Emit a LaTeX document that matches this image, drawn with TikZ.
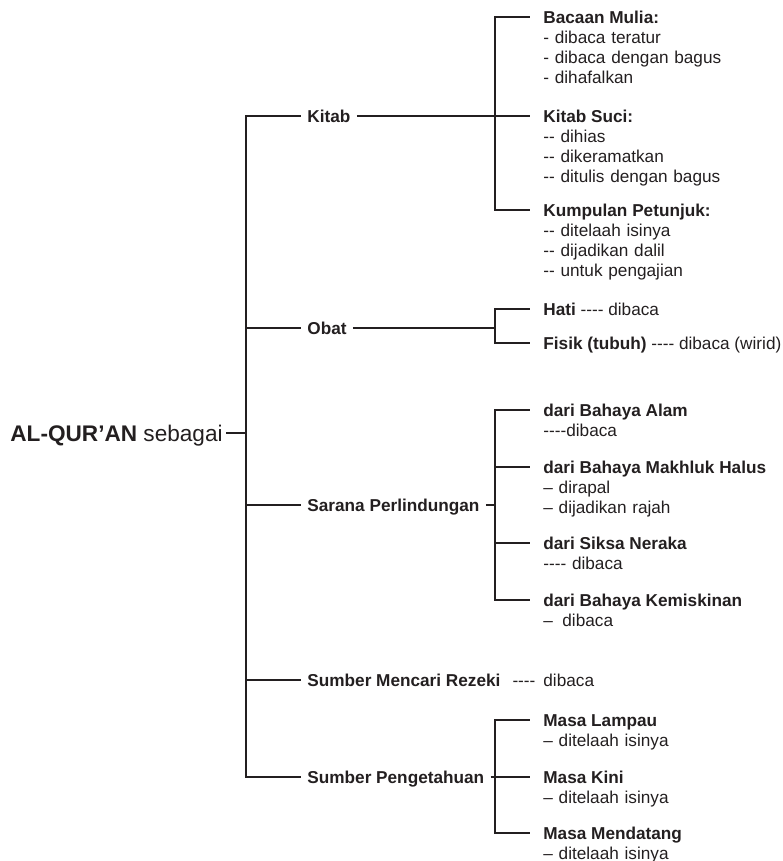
\documentclass[tikz,border=0pt]{standalone}
\usepackage{fontspec}
\setmainfont{Liberation Sans}[Ligatures=TeXOff]
\definecolor{ink}{HTML}{231F20}

\begin{document}
\begin{tikzpicture}[x=0.5pt,y=-0.5pt,
  line/.style={draw=ink,line width=0.75pt},
  root/.style={anchor=west,inner xsep=1.5pt,inner ysep=0pt,text=ink,
    font=\fontsize{11.3}{13}\selectfont,text height=8.1pt,text depth=0pt},
  main/.style={anchor=west,inner xsep=3pt,inner ysep=0pt,text=ink,
    font=\fontsize{8.6}{10}\selectfont\bfseries,text height=6.2pt,text depth=0pt},
  sub/.style={main,inner xsep=6.5pt},
  info/.style={anchor=base west,inner xsep=6.5pt,inner ysep=0pt,text=ink,
    font=\fontsize{8.6}{10}\selectfont,align=left,text width=120pt}]

\useasboundingbox (0,0) rectangle (782,861);

% root and first level
\node[root] (root) at (7,433) {\textbf{AL-QUR’AN} sebagai};
\coordinate (trunk) at (246,433);

\node[main] (kitab) at (301,116) {Kitab};
\node[main] (obat) at (301,328) {Obat};
\node[main] (sarana) at (301,505) {Sarana Perlindungan};
\node[main] (rezeki) at (301,680) {Sumber Mencari Rezeki\hspace{6pt}\mdseries----\hspace{4pt}dibaca};
\node[main] (ilmu) at (301,777) {Sumber Pengetahuan};

\coordinate (kitab-f) at (495,116);
\coordinate (obat-f) at (495,328);
\coordinate (sarana-f) at (495,505);
\coordinate (ilmu-f) at (495,777);

% Kitab
\node[sub] (bacaan) at (530,17) {Bacaan Mulia:};
\node[info] (bacaan-d) at ([yshift=-10pt]bacaan.base west) {- dibaca teratur\\- dibaca dengan bagus\\- dihafalkan};
\node[sub] (suci) at (530,116) {Kitab Suci:};
\node[info] (suci-d) at ([yshift=-10pt]suci.base west) {-- dihias\\-- dikeramatkan\\-- ditulis dengan bagus};
\node[sub] (petunjuk) at (530,210) {Kumpulan Petunjuk:};
\node[info] (petunjuk-d) at ([yshift=-10pt]petunjuk.base west) {-- ditelaah isinya\\-- dijadikan dalil\\-- untuk pengajian};

% Obat
\node[sub] (hati) at (530,309) {Hati \mdseries---- dibaca};
\node[sub] (fisik) at (530,343) {Fisik (tubuh) \mdseries---- dibaca (wirid)};

% Sarana Perlindungan
\node[sub] (alam) at (530,410) {dari Bahaya Alam};
\node[info] (alam-d) at ([yshift=-10pt]alam.base west) {----dibaca};
\node[sub] (halus) at (530,467) {dari Bahaya Makhluk Halus};
\node[info] (halus-d) at ([yshift=-10pt]halus.base west) {– dirapal\\– dijadikan rajah};
\node[sub] (neraka) at (530,543) {dari Siksa Neraka};
\node[info] (neraka-d) at ([yshift=-10pt]neraka.base west) {---- dibaca};
\node[sub] (miskin) at (530,600) {dari Bahaya Kemiskinan};
\node[info] (miskin-d) at ([yshift=-10pt]miskin.base west) {–\hspace{0.55em}dibaca};

% Sumber Pengetahuan
\node[sub] (lampau) at (530,720) {Masa Lampau};
\node[info] (lampau-d) at ([yshift=-10pt]lampau.base west) {– ditelaah isinya};
\node[sub] (kini) at (530,777) {Masa Kini};
\node[info] (kini-d) at ([yshift=-10pt]kini.base west) {– ditelaah isinya};
\node[sub] (datang) at (530,833) {Masa Mendatang};
\node[info] (datang-d) at ([yshift=-10pt]datang.base west) {– ditelaah isinya};

% connectors
\draw[line] (root.east) -- (trunk);
\foreach \n in {kitab,obat,sarana,rezeki,ilmu}
  \draw[line] (trunk) |- (\n.west);

\draw[line] (kitab.east) -- (kitab-f);
\draw[line] (obat.east) -- (obat-f);
\draw[line] (sarana.east) -- (sarana-f);
\draw[line] (ilmu.east) -- (ilmu-f);

\foreach \n in {bacaan,suci,petunjuk}
  \draw[line] (kitab-f) |- (\n.west);
\foreach \n in {hati,fisik}
  \draw[line] (obat-f) |- (\n.west);
\foreach \n in {alam,halus,neraka,miskin}
  \draw[line] (sarana-f) |- (\n.west);
\foreach \n in {lampau,kini,datang}
  \draw[line] (ilmu-f) |- (\n.west);

\end{tikzpicture}
\end{document}
